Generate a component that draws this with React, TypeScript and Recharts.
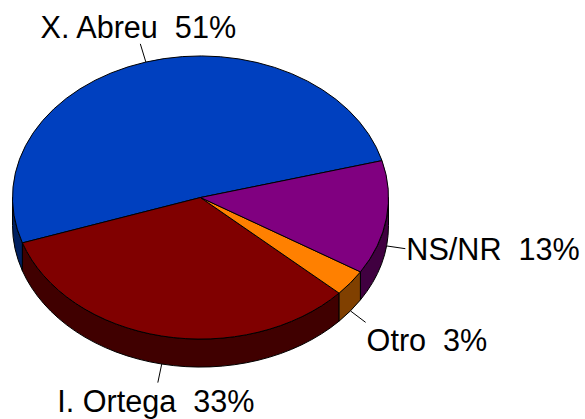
import React from 'react';
import { PieChart, Pie, Cell } from 'recharts';

const candidates = ['X. Abreu', 'I. Ortega', 'Otro', 'NS/NR'];
const shares = [51, 33, 3, 13];
const topColors = ['#0040BF', '#800000', '#FF8000', '#800080'];
const sideColors = ['#002060', '#400000', '#804000', '#400040'];

const data = candidates.map((name, i) => ({ name, value: shares[i], side: sideColors[i] }));

const TILT = 0.753;
const DEPTH = 28;
const RAD = Math.PI / 180;

// Recharts only knows circles, so the sector angles get squashed onto an ellipse here
const point = (cx: number, cy: number, r: number, deg: number) => ({
  x: cx + r * Math.cos(deg * RAD),
  y: cy - r * TILT * Math.sin(deg * RAD),
});

const wallPath = (cx: number, cy: number, r: number, from: number, to: number) => {
  const a = point(cx, cy, r, from);
  const b = point(cx, cy, r, to);
  return `M${a.x},${a.y} A${r},${r * TILT} 0 0 0 ${b.x},${b.y} L${b.x},${b.y + DEPTH} A${r},${r * TILT} 0 0 1 ${a.x},${a.y + DEPTH} Z`;
};

const PieSlice = (props: any) => {
  const { cx, cy, outerRadius: r, startAngle, endAngle, fill, payload } = props;
  const a = point(cx, cy, r, startAngle);
  const b = point(cx, cy, r, endAngle);
  const large = endAngle - startAngle > 180 ? 1 : 0;
  // only the part of the rim facing the viewer gets a wall
  const walls: [number, number][] = [];
  [[180, 360], [540, 720]].forEach(([lo, hi]) => {
    const from = Math.max(startAngle, lo);
    const to = Math.min(endAngle, hi);
    if (to > from) walls.push([from, to]);
  });
  return (
    <g>
      {walls.map(([from, to]) => (
        <path key={from} d={wallPath(cx, cy, r, from, to)} fill={payload.side ?? props.side} stroke="#000" strokeWidth={1} />
      ))}
      <path
        d={`M${cx},${cy} L${a.x},${a.y} A${r},${r * TILT} 0 ${large} 0 ${b.x},${b.y} Z`}
        fill={fill}
        stroke="#000"
        strokeWidth={1}
        strokeLinejoin="round"
      />
    </g>
  );
};

const SliceLabel = (props: any) => {
  const { cx, cy, outerRadius: r, midAngle, name, value } = props;
  const cos = Math.cos(midAngle * RAD);
  const sin = Math.sin(midAngle * RAD);
  const drop = sin < 0 ? DEPTH : 0;
  const x1 = cx + r * cos;
  const y1 = cy - r * TILT * sin + drop;
  const x2 = cx + (r + 19) * cos;
  const y2 = cy - (r * TILT + 19) * sin + drop;
  const side = Math.abs(cos) >= 0.5;
  const baseline = sin > 0.3 ? y2 - 6 : sin < -0.3 ? y2 + 29 : y2 + 11;
  return (
    <g>
      <line x1={x1} y1={y1} x2={x2} y2={y2} stroke="#000" strokeWidth={1} />
      <text
        x={side ? x2 + 1 : x2 - 2}
        y={baseline}
        textAnchor={side ? 'start' : 'middle'}
        fill="#000"
        fontFamily="'Liberation Sans', Arial, sans-serif"
        fontSize={30.6}
        style={{ whiteSpace: 'pre' }}
      >
        {`${name}  ${value}%`}
      </text>
    </g>
  );
};

export default function App() {
  return (
    <div style={{ position: 'absolute', left: 0, top: 0, width: 585, height: 419, background: '#fff' }}>
      <PieChart width={585} height={419} margin={{ top: 0, right: 0, bottom: 0, left: 0 }}>
        <Pie
          data={data}
          dataKey="value"
          nameKey="name"
          cx={200.5}
          cy={197.5}
          innerRadius={0}
          outerRadius={188}
          startAngle={15.1}
          endAngle={375.1}
          stroke="#000"
          shape={PieSlice}
          label={SliceLabel}
          labelLine={false}
          isAnimationActive={false}
        >
          {data.map((d, i) => (
            <Cell key={d.name} fill={topColors[i]} />
          ))}
        </Pie>
      </PieChart>
    </div>
  );
}
